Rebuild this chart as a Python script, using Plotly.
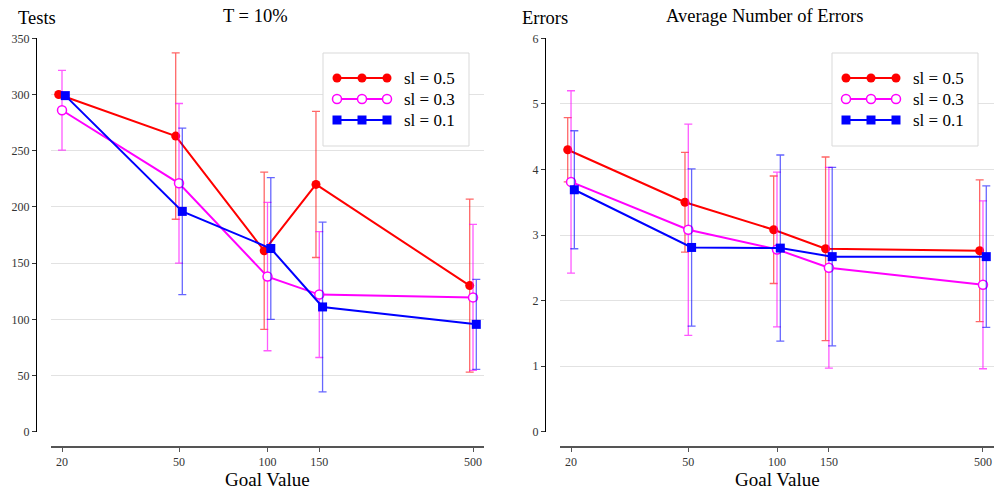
import math
import plotly.graph_objects as go

# ---- data -----------------------------------------------------------------
goal_values = [20, 50, 100, 150, 500]
goal_labels = ["20", "50", "100", "150", "500"]
series_names = ["sl = 0.5", "sl = 0.3", "sl = 0.1"]

tests_sl05 = [300, 263, 161, 220, 130]
tests_sl05_err = [0, 74, 70, 65, 77]
tests_sl03 = [286, 221, 138, 122, 119.5]
tests_sl03_err = [35.5, 71, 66, 56, 65]
tests_sl01 = [299, 196, 163, 111, 95.5]
tests_sl01_err = [0, 74, 63, 75.5, 40]

errors_sl05 = [4.30, 3.50, 3.08, 2.79, 2.76]
errors_sl05_err = [0.49, 0.76, 0.82, 1.40, 1.08]
errors_sl03 = [3.81, 3.08, 2.78, 2.50, 2.24]
errors_sl03_err = [1.39, 1.61, 1.18, 1.53, 1.28]
errors_sl01 = [3.69, 2.81, 2.80, 2.67, 2.67]
errors_sl01_err = [0.90, 1.20, 1.42, 1.36, 1.08]

tests_ticks = [0, 50, 100, 150, 200, 250, 300, 350]
errors_ticks = [0, 1, 2, 3, 4, 5, 6]

# ---- styling ----------------------------------------------------------------
W, H = 994, 491
FONT = "Liberation Serif"
colors = ["#ff0000", "#ff00ff", "#0000ff"]
err_colors = ["rgba(255,0,0,0.6)", "rgba(255,0,255,0.65)", "rgba(0,0,255,0.6)"]
PX_PER_DECADE = 294.0
dodge_px = [-3.3, 0.0, 3.3]


def marker_style(i):
    if i == 0:
        return dict(symbol="circle", size=9, color=colors[0], line=dict(width=0))
    if i == 1:
        return dict(symbol="circle", size=9, color="white", line=dict(width=1.5, color=colors[1]))
    return dict(symbol="square", size=9, color=colors[2], line=dict(width=0))


def px(x):
    return x / W


def py(y):
    return 1 - y / H


fig = go.Figure()

panels = [
    ("x", "y", [tests_sl05, tests_sl03, tests_sl01], [tests_sl05_err, tests_sl03_err, tests_sl01_err]),
    ("x2", "y2", [errors_sl05, errors_sl03, errors_sl01], [errors_sl05_err, errors_sl03_err, errors_sl01_err]),
]

for xa, ya, vals, errs in panels:
    for i in range(3):
        shift = 10 ** (dodge_px[i] / PX_PER_DECADE)
        fig.add_trace(go.Scatter(
            x=[g * shift for g in goal_values], y=vals[i],
            mode="lines+markers", name=series_names[i], showlegend=False,
            line=dict(color=colors[i], width=2),
            marker=marker_style(i),
            error_y=dict(type="data", array=errs[i], visible=True,
                         color=err_colors[i], thickness=1.3, width=4),
            xaxis=xa, yaxis=ya, cliponaxis=False,
        ))

# ---- hand-drawn legends (three markers per key) -------------------------------
legend_boxes = [(323, 53, 469, 146), (832, 53, 978, 146)]
legend_rows = [78, 99, 120]
for (l, t, r, b) in legend_boxes:
    fig.add_trace(go.Scatter(
        x=[l, r, r, l, l], y=[t, t, b, b, t], mode="lines", fill="toself",
        fillcolor="white", line=dict(color="#d9d9d9", width=1),
        showlegend=False, hoverinfo="skip", xaxis="x3", yaxis="y3"))
    for i, row in enumerate(legend_rows):
        fig.add_trace(go.Scatter(
            x=[l + 14, l + 39, l + 64], y=[row] * 3, mode="lines+markers",
            line=dict(color=colors[i], width=2), marker=marker_style(i),
            showlegend=False, hoverinfo="skip", xaxis="x3", yaxis="y3"))
        fig.add_annotation(x=l + 79, y=row, xref="x3", yref="y3", text=series_names[i],
                           showarrow=False, xanchor="left", yanchor="middle",
                           font=dict(family=FONT, size=17, color="black"))

# ---- axes --------------------------------------------------------------------
lo = math.log10(goal_values[0]) - 11 / PX_PER_DECADE
hi = math.log10(goal_values[-1]) + 11 / PX_PER_DECADE
tickfont = dict(family=FONT, size=12, color="#333333")

xcommon = dict(type="log", range=[lo, hi], anchor="free", position=py(446.7),
               showline=True, linecolor="#555555", linewidth=1.6,
               ticks="outside", ticklen=4, tickcolor="#555555", tickwidth=1,
               tickvals=goal_values, ticktext=goal_labels, tickfont=tickfont,
               showgrid=False, zeroline=False, automargin=False)
ycommon = dict(anchor="free", domain=[py(431.7), py(38.3)],
               showline=True, linecolor="black", linewidth=1.3,
               ticks="outside", ticklen=4, tickcolor="#333333", tickwidth=1,
               tickfont=tickfont, showgrid=True, gridcolor="#e2e2e2", gridwidth=1.4,
               zeroline=False, automargin=False)

fig.update_layout(
    width=W, height=H, autosize=False,
    margin=dict(l=0, r=0, t=0, b=0, pad=0, autoexpand=False),
    paper_bgcolor="white", plot_bgcolor="rgba(0,0,0,0)",
    showlegend=False,
    xaxis=dict(domain=[px(51), px(484)], **xcommon),
    xaxis2=dict(domain=[px(560), 1.0], **xcommon),
    yaxis=dict(range=[0, 350], position=px(36), tickvals=tests_ticks, **ycommon),
    yaxis2=dict(range=[0, 6], position=px(545), tickvals=errors_ticks, **ycommon),
    xaxis3=dict(domain=[0, 1], range=[0, W], visible=False, fixedrange=True, automargin=False),
    yaxis3=dict(domain=[0, 1], range=[H, 0], visible=False, fixedrange=True, automargin=False),
)

# ---- titles ------------------------------------------------------------------
texts = [
    ("Tests", 16, 18, "left", 18.5),
    ("T = 10%", 255, 16, "center", 18.5),
    ("Goal Value", 267.5, 479, "center", 19),
    ("Errors", 520, 18, "left", 18.5),
    ("Average Number of Errors", 764.5, 16, "center", 18.5),
    ("Goal Value", 777, 479, "center", 19),
]
for txt, x, y, anchor, size in texts:
    fig.add_annotation(x=px(x), y=py(y), xref="paper", yref="paper", text=txt,
                       showarrow=False, xanchor=anchor, yanchor="middle",
                       font=dict(family=FONT, size=size, color="black"))

fig.write_html("out.html")
